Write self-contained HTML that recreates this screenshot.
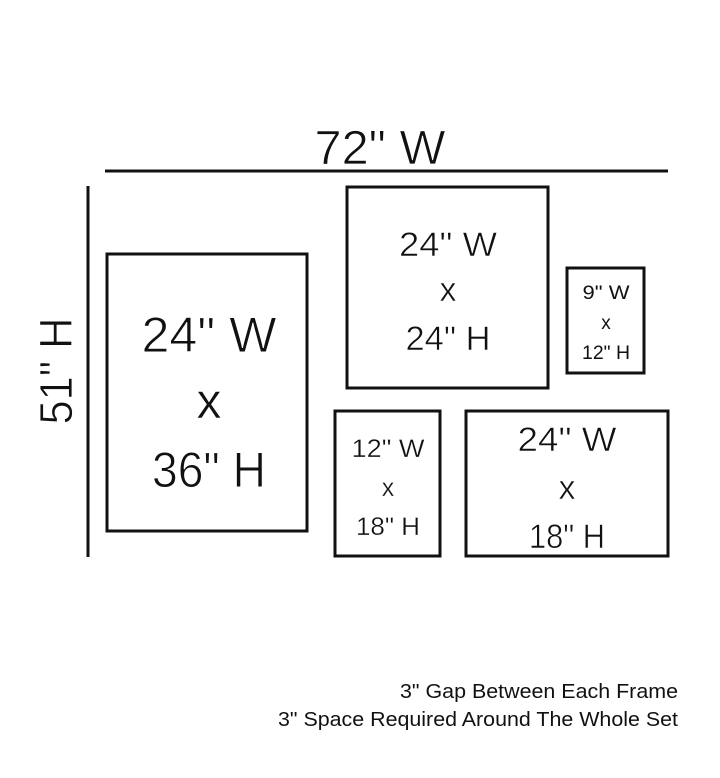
<!DOCTYPE html>
<html><head><meta charset="utf-8"><style>
html,body{margin:0;padding:0;background:#fff;}
svg{display:block;}
text{font-family:"Liberation Sans",sans-serif;}
</style></head><body>
<svg width="720" height="778" viewBox="0 0 720 778" xmlns="http://www.w3.org/2000/svg">
<g stroke="#111" stroke-width="3" fill="none">
<line x1="105" y1="171" x2="668" y2="171"/>
<line x1="88" y1="186" x2="88" y2="557"/>
<rect x="107" y="254" width="200" height="277"/>
<rect x="347" y="187" width="201" height="201"/>
<rect x="567" y="268" width="77" height="105"/>
<rect x="335" y="411" width="105" height="145"/>
<rect x="466" y="411" width="202" height="145"/>
</g>
<g text-anchor="middle" fill="#111" stroke="#fff" stroke-width="0.6">
<text x="380" y="164" font-size="48" textLength="131" lengthAdjust="spacingAndGlyphs" stroke-width="0.8">72" W</text>
<text transform="translate(72,371) rotate(-90)" font-size="46" textLength="107" lengthAdjust="spacingAndGlyphs" stroke-width="0.8">51" H</text>
<text x="209" y="352" font-size="50" textLength="135" lengthAdjust="spacingAndGlyphs" stroke-width="0.9">24" W</text>
<text x="209" y="418" font-size="50">x</text>
<text x="209" y="487" font-size="50" textLength="114" lengthAdjust="spacingAndGlyphs" stroke-width="0.9">36" H</text>
<text x="448" y="256" font-size="34" textLength="98" lengthAdjust="spacingAndGlyphs">24" W</text>
<text x="448" y="301" font-size="34">x</text>
<text x="448" y="350" font-size="34" textLength="85" lengthAdjust="spacingAndGlyphs">24" H</text>
<text x="606" y="299" font-size="19" textLength="47" lengthAdjust="spacingAndGlyphs" stroke="none">9" W</text>
<text x="606" y="329" font-size="19" stroke="none">x</text>
<text x="606" y="359" font-size="19" textLength="48" lengthAdjust="spacingAndGlyphs" stroke="none">12" H</text>
<text x="388" y="457" font-size="25" textLength="73" lengthAdjust="spacingAndGlyphs" stroke-width="0.3">12" W</text>
<text x="388" y="496" font-size="25" stroke-width="0.3">x</text>
<text x="388" y="535" font-size="25" textLength="64" lengthAdjust="spacingAndGlyphs" stroke-width="0.3">18" H</text>
<text x="567" y="451" font-size="34" textLength="99" lengthAdjust="spacingAndGlyphs">24" W</text>
<text x="567" y="499" font-size="34">x</text>
<text x="567" y="548" font-size="34" textLength="76" lengthAdjust="spacingAndGlyphs">18" H</text>
</g>
<g text-anchor="end" font-size="20" fill="#111">
<text x="678" y="698" textLength="278" lengthAdjust="spacingAndGlyphs">3" Gap Between Each Frame</text>
<text x="678" y="726" textLength="400" lengthAdjust="spacingAndGlyphs">3" Space Required Around The Whole Set</text>
</g>
</svg>
</body></html>
